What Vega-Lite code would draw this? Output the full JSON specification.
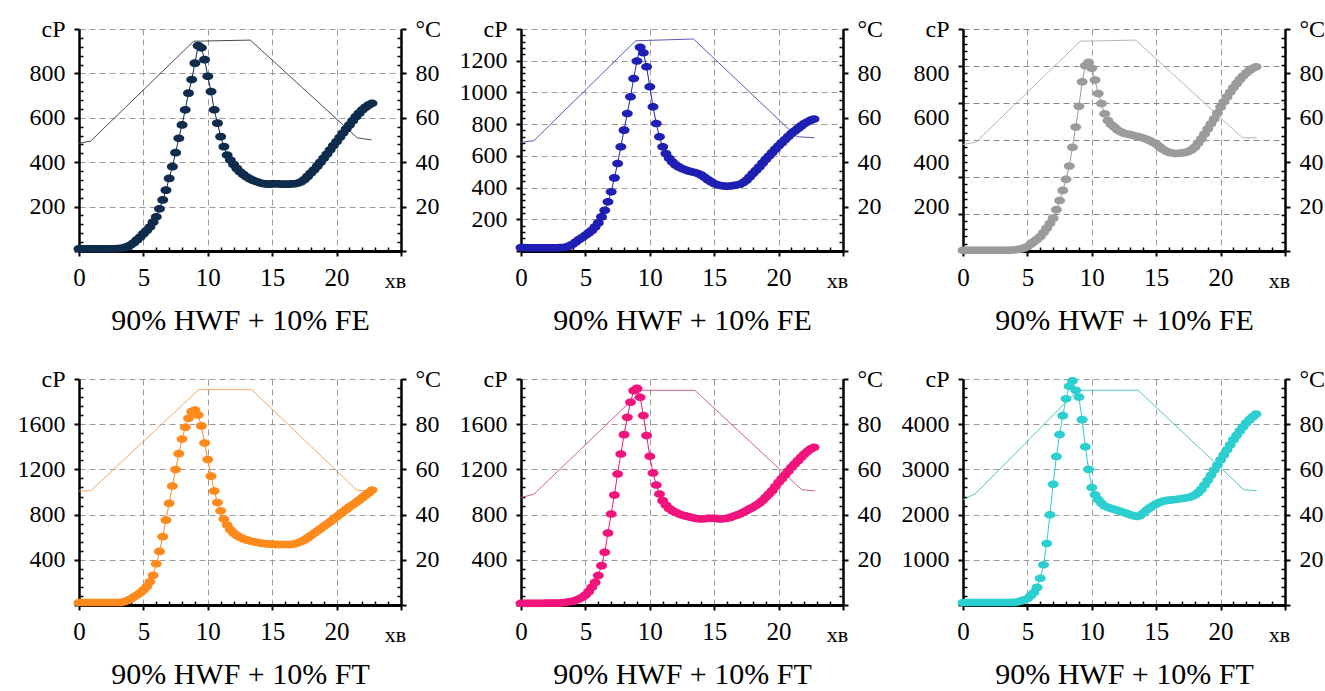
{
"$schema": "https://vega.github.io/schema/vega-lite/v6.json",
"padding": {"left": 17, "top": 17, "right": 0, "bottom": 0},
"background": "white",
"config": {
  "view": {"stroke": null},
  "font": "Liberation Serif",
  "style": {"guide-label": {"font": "Liberation Serif", "fill": "#000"}, "guide-title": {"font": "Liberation Serif", "fill": "#000"}},
  "axis": {"labelFont": "Liberation Serif", "titleFont": "Liberation Serif", "labelColor": "#000", "titleColor": "#000", "titleFontWeight": "normal", "domainColor": "#000", "tickColor": "#000", "gridColor": "#9a9a9a", "gridDash": [6, 4], "gridWidth": 1, "labelOverlap": false, "labelFlush": false, "labelBound": false}
},
"datasets": {
"temp": [
{"p":1,"t":0,"T":48.5},{"p":1,"t":0.9,"T":49.5},{"p":1,"t":8.9,"T":94.5},{"p":1,"t":13.3,"T":95},{"p":1,"t":21.6,"T":51},{"p":1,"t":22.7,"T":50},
{"p":2,"t":0,"T":49},{"p":2,"t":1,"T":49.7},{"p":2,"t":8.9,"T":94.7},{"p":2,"t":13.4,"T":95.5},{"p":2,"t":21.4,"T":51.5},{"p":2,"t":22.8,"T":51},
{"p":3,"t":0,"T":48},{"p":3,"t":1,"T":49},{"p":3,"t":9.1,"T":94.5},{"p":3,"t":13.4,"T":95},{"p":3,"t":21.7,"T":51},{"p":3,"t":22.8,"T":51},
{"p":4,"t":0,"T":50.5},{"p":4,"t":0.9,"T":50.5},{"p":4,"t":9.3,"T":95.3},{"p":4,"t":13.4,"T":95.3},{"p":4,"t":21.6,"T":50.7},{"p":4,"t":22.6,"T":50.5},
{"p":5,"t":0,"T":47.6},{"p":5,"t":1,"T":49},{"p":5,"t":9.4,"T":95},{"p":5,"t":13.5,"T":95},{"p":5,"t":21.8,"T":51},{"p":5,"t":22.8,"T":50.5},
{"p":6,"t":0,"T":46.5},{"p":6,"t":1,"T":49.4},{"p":6,"t":8.9,"T":95},{"p":6,"t":13.6,"T":95},{"p":6,"t":21.8,"T":51},{"p":6,"t":22.8,"T":50.6}
],
"visc": [
{"p":1,"t":0,"v":10},{"p":1,"t":0.25,"v":10},{"p":1,"t":0.5,"v":10},{"p":1,"t":0.75,"v":10},{"p":1,"t":1,"v":10},{"p":1,"t":1.25,"v":10},{"p":1,"t":1.5,"v":10},{"p":1,"t":1.75,"v":10},{"p":1,"t":2,"v":10},{"p":1,"t":2.25,"v":10},{"p":1,"t":2.5,"v":10},{"p":1,"t":2.75,"v":10},{"p":1,"t":3,"v":11},{"p":1,"t":3.25,"v":12},{"p":1,"t":3.5,"v":15},{"p":1,"t":3.75,"v":20},{"p":1,"t":4,"v":27},{"p":1,"t":4.25,"v":37},{"p":1,"t":4.5,"v":50},{"p":1,"t":4.75,"v":63},{"p":1,"t":5,"v":78},{"p":1,"t":5.25,"v":92},{"p":1,"t":5.5,"v":108},{"p":1,"t":5.75,"v":130},{"p":1,"t":6,"v":154},{"p":1,"t":6.25,"v":190},{"p":1,"t":6.5,"v":230},{"p":1,"t":6.75,"v":274},{"p":1,"t":7,"v":327},{"p":1,"t":7.25,"v":380},{"p":1,"t":7.5,"v":443},{"p":1,"t":7.75,"v":508},{"p":1,"t":8,"v":568},{"p":1,"t":8.25,"v":636},{"p":1,"t":8.5,"v":711},{"p":1,"t":8.75,"v":772},{"p":1,"t":9,"v":846},{"p":1,"t":9.25,"v":925},{"p":1,"t":9.5,"v":915},{"p":1,"t":9.75,"v":862},{"p":1,"t":10,"v":787},{"p":1,"t":10.25,"v":718},{"p":1,"t":10.5,"v":636},{"p":1,"t":10.75,"v":576},{"p":1,"t":11,"v":515},{"p":1,"t":11.25,"v":470},{"p":1,"t":11.5,"v":432},{"p":1,"t":11.75,"v":410},{"p":1,"t":12,"v":390},{"p":1,"t":12.25,"v":372},{"p":1,"t":12.5,"v":357},{"p":1,"t":12.75,"v":345},{"p":1,"t":13,"v":334},{"p":1,"t":13.25,"v":326},{"p":1,"t":13.5,"v":319},{"p":1,"t":13.75,"v":313},{"p":1,"t":14,"v":308},{"p":1,"t":14.25,"v":304},{"p":1,"t":14.5,"v":302},{"p":1,"t":14.75,"v":301},{"p":1,"t":15,"v":302},{"p":1,"t":15.25,"v":303},{"p":1,"t":15.5,"v":302},{"p":1,"t":15.75,"v":301},{"p":1,"t":16,"v":301},{"p":1,"t":16.25,"v":301},{"p":1,"t":16.5,"v":302},{"p":1,"t":16.75,"v":303},{"p":1,"t":17,"v":306},{"p":1,"t":17.25,"v":312},{"p":1,"t":17.5,"v":322},{"p":1,"t":17.75,"v":336},{"p":1,"t":18,"v":351},{"p":1,"t":18.25,"v":366},{"p":1,"t":18.5,"v":382},{"p":1,"t":18.75,"v":400},{"p":1,"t":19,"v":418},{"p":1,"t":19.25,"v":437},{"p":1,"t":19.5,"v":456},{"p":1,"t":19.75,"v":475},{"p":1,"t":20,"v":493},{"p":1,"t":20.25,"v":512},{"p":1,"t":20.5,"v":531},{"p":1,"t":20.75,"v":550},{"p":1,"t":21,"v":568},{"p":1,"t":21.25,"v":587},{"p":1,"t":21.5,"v":605},{"p":1,"t":21.75,"v":621},{"p":1,"t":22,"v":636},{"p":1,"t":22.25,"v":648},{"p":1,"t":22.5,"v":658},{"p":1,"t":22.75,"v":665},
{"p":2,"t":0,"v":22},{"p":2,"t":0.25,"v":22},{"p":2,"t":0.5,"v":20},{"p":2,"t":0.75,"v":20},{"p":2,"t":1,"v":20},{"p":2,"t":1.25,"v":20},{"p":2,"t":1.5,"v":20},{"p":2,"t":1.75,"v":20},{"p":2,"t":2,"v":20},{"p":2,"t":2.25,"v":20},{"p":2,"t":2.5,"v":20},{"p":2,"t":2.75,"v":20},{"p":2,"t":3,"v":21},{"p":2,"t":3.25,"v":22},{"p":2,"t":3.5,"v":24},{"p":2,"t":3.75,"v":32},{"p":2,"t":4,"v":42},{"p":2,"t":4.25,"v":56},{"p":2,"t":4.5,"v":72},{"p":2,"t":4.75,"v":85},{"p":2,"t":5,"v":99},{"p":2,"t":5.25,"v":114},{"p":2,"t":5.5,"v":130},{"p":2,"t":5.75,"v":152},{"p":2,"t":6,"v":177},{"p":2,"t":6.25,"v":215},{"p":2,"t":6.5,"v":257},{"p":2,"t":6.75,"v":310},{"p":2,"t":7,"v":373},{"p":2,"t":7.25,"v":461},{"p":2,"t":7.5,"v":552},{"p":2,"t":7.75,"v":657},{"p":2,"t":8,"v":762},{"p":2,"t":8.25,"v":867},{"p":2,"t":8.5,"v":973},{"p":2,"t":8.75,"v":1088},{"p":2,"t":9,"v":1198},{"p":2,"t":9.25,"v":1285},{"p":2,"t":9.5,"v":1250},{"p":2,"t":9.75,"v":1162},{"p":2,"t":10,"v":1036},{"p":2,"t":10.25,"v":909},{"p":2,"t":10.5,"v":804},{"p":2,"t":10.75,"v":720},{"p":2,"t":11,"v":657},{"p":2,"t":11.25,"v":615},{"p":2,"t":11.5,"v":585},{"p":2,"t":11.75,"v":562},{"p":2,"t":12,"v":543},{"p":2,"t":12.25,"v":530},{"p":2,"t":12.5,"v":520},{"p":2,"t":12.75,"v":512},{"p":2,"t":13,"v":505},{"p":2,"t":13.25,"v":500},{"p":2,"t":13.5,"v":495},{"p":2,"t":13.75,"v":488},{"p":2,"t":14,"v":478},{"p":2,"t":14.25,"v":465},{"p":2,"t":14.5,"v":450},{"p":2,"t":14.75,"v":437},{"p":2,"t":15,"v":425},{"p":2,"t":15.25,"v":418},{"p":2,"t":15.5,"v":413},{"p":2,"t":15.75,"v":410},{"p":2,"t":16,"v":408},{"p":2,"t":16.25,"v":410},{"p":2,"t":16.5,"v":413},{"p":2,"t":16.75,"v":416},{"p":2,"t":17,"v":421},{"p":2,"t":17.25,"v":432},{"p":2,"t":17.5,"v":446},{"p":2,"t":17.75,"v":466},{"p":2,"t":18,"v":488},{"p":2,"t":18.25,"v":509},{"p":2,"t":18.5,"v":530},{"p":2,"t":18.75,"v":554},{"p":2,"t":19,"v":577},{"p":2,"t":19.25,"v":599},{"p":2,"t":19.5,"v":621},{"p":2,"t":19.75,"v":642},{"p":2,"t":20,"v":663},{"p":2,"t":20.25,"v":683},{"p":2,"t":20.5,"v":703},{"p":2,"t":20.75,"v":722},{"p":2,"t":21,"v":741},{"p":2,"t":21.25,"v":757},{"p":2,"t":21.5,"v":773},{"p":2,"t":21.75,"v":789},{"p":2,"t":22,"v":804},{"p":2,"t":22.25,"v":815},{"p":2,"t":22.5,"v":825},{"p":2,"t":22.75,"v":832},
{"p":3,"t":0,"v":3},{"p":3,"t":0.25,"v":3},{"p":3,"t":0.5,"v":3},{"p":3,"t":0.75,"v":3},{"p":3,"t":1,"v":3},{"p":3,"t":1.25,"v":3},{"p":3,"t":1.5,"v":3},{"p":3,"t":1.75,"v":3},{"p":3,"t":2,"v":3},{"p":3,"t":2.25,"v":3},{"p":3,"t":2.5,"v":3},{"p":3,"t":2.75,"v":3},{"p":3,"t":3,"v":3},{"p":3,"t":3.25,"v":3},{"p":3,"t":3.5,"v":3},{"p":3,"t":3.75,"v":4},{"p":3,"t":4,"v":5},{"p":3,"t":4.25,"v":7},{"p":3,"t":4.5,"v":9},{"p":3,"t":4.75,"v":14},{"p":3,"t":5,"v":20},{"p":3,"t":5.25,"v":30},{"p":3,"t":5.5,"v":42},{"p":3,"t":5.75,"v":53},{"p":3,"t":6,"v":65},{"p":3,"t":6.25,"v":83},{"p":3,"t":6.5,"v":103},{"p":3,"t":6.75,"v":125},{"p":3,"t":7,"v":148},{"p":3,"t":7.25,"v":186},{"p":3,"t":7.5,"v":227},{"p":3,"t":7.75,"v":273},{"p":3,"t":8,"v":323},{"p":3,"t":8.25,"v":383},{"p":3,"t":8.5,"v":467},{"p":3,"t":8.75,"v":558},{"p":3,"t":9,"v":652},{"p":3,"t":9.25,"v":762},{"p":3,"t":9.5,"v":835},{"p":3,"t":9.75,"v":850},{"p":3,"t":10,"v":823},{"p":3,"t":10.25,"v":770},{"p":3,"t":10.5,"v":709},{"p":3,"t":10.75,"v":664},{"p":3,"t":11,"v":618},{"p":3,"t":11.25,"v":588},{"p":3,"t":11.5,"v":570},{"p":3,"t":11.75,"v":558},{"p":3,"t":12,"v":545},{"p":3,"t":12.25,"v":537},{"p":3,"t":12.5,"v":530},{"p":3,"t":12.75,"v":527},{"p":3,"t":13,"v":524},{"p":3,"t":13.25,"v":520},{"p":3,"t":13.5,"v":517},{"p":3,"t":13.75,"v":513},{"p":3,"t":14,"v":509},{"p":3,"t":14.25,"v":503},{"p":3,"t":14.5,"v":497},{"p":3,"t":14.75,"v":490},{"p":3,"t":15,"v":482},{"p":3,"t":15.25,"v":470},{"p":3,"t":15.5,"v":459},{"p":3,"t":15.75,"v":450},{"p":3,"t":16,"v":444},{"p":3,"t":16.25,"v":441},{"p":3,"t":16.5,"v":439},{"p":3,"t":16.75,"v":440},{"p":3,"t":17,"v":441},{"p":3,"t":17.25,"v":444},{"p":3,"t":17.5,"v":448},{"p":3,"t":17.75,"v":456},{"p":3,"t":18,"v":467},{"p":3,"t":18.25,"v":485},{"p":3,"t":18.5,"v":505},{"p":3,"t":18.75,"v":527},{"p":3,"t":19,"v":550},{"p":3,"t":19.25,"v":573},{"p":3,"t":19.5,"v":595},{"p":3,"t":19.75,"v":621},{"p":3,"t":20,"v":648},{"p":3,"t":20.25,"v":672},{"p":3,"t":20.5,"v":694},{"p":3,"t":20.75,"v":716},{"p":3,"t":21,"v":736},{"p":3,"t":21.25,"v":755},{"p":3,"t":21.5,"v":773},{"p":3,"t":21.75,"v":788},{"p":3,"t":22,"v":803},{"p":3,"t":22.25,"v":814},{"p":3,"t":22.5,"v":823},{"p":3,"t":22.75,"v":830},
{"p":4,"t":0,"v":22},{"p":4,"t":0.25,"v":22},{"p":4,"t":0.5,"v":22},{"p":4,"t":0.75,"v":22},{"p":4,"t":1,"v":22},{"p":4,"t":1.25,"v":22},{"p":4,"t":1.5,"v":22},{"p":4,"t":1.75,"v":22},{"p":4,"t":2,"v":22},{"p":4,"t":2.25,"v":22},{"p":4,"t":2.5,"v":22},{"p":4,"t":2.75,"v":22},{"p":4,"t":3,"v":22},{"p":4,"t":3.25,"v":23},{"p":4,"t":3.5,"v":29},{"p":4,"t":3.75,"v":40},{"p":4,"t":4,"v":53},{"p":4,"t":4.25,"v":70},{"p":4,"t":4.5,"v":88},{"p":4,"t":4.75,"v":108},{"p":4,"t":5,"v":132},{"p":4,"t":5.25,"v":161},{"p":4,"t":5.5,"v":205},{"p":4,"t":5.75,"v":263},{"p":4,"t":6,"v":365},{"p":4,"t":6.25,"v":474},{"p":4,"t":6.5,"v":605},{"p":4,"t":6.75,"v":751},{"p":4,"t":7,"v":900},{"p":4,"t":7.25,"v":1053},{"p":4,"t":7.5,"v":1199},{"p":4,"t":7.75,"v":1339},{"p":4,"t":8,"v":1468},{"p":4,"t":8.25,"v":1573},{"p":4,"t":8.5,"v":1652},{"p":4,"t":8.75,"v":1711},{"p":4,"t":9,"v":1725},{"p":4,"t":9.25,"v":1681},{"p":4,"t":9.5,"v":1585},{"p":4,"t":9.75,"v":1433},{"p":4,"t":10,"v":1287},{"p":4,"t":10.25,"v":1140},{"p":4,"t":10.5,"v":1009},{"p":4,"t":10.75,"v":906},{"p":4,"t":11,"v":833},{"p":4,"t":11.25,"v":760},{"p":4,"t":11.5,"v":708},{"p":4,"t":11.75,"v":667},{"p":4,"t":12,"v":637},{"p":4,"t":12.25,"v":616},{"p":4,"t":12.5,"v":599},{"p":4,"t":12.75,"v":587},{"p":4,"t":13,"v":576},{"p":4,"t":13.25,"v":568},{"p":4,"t":13.5,"v":561},{"p":4,"t":13.75,"v":555},{"p":4,"t":14,"v":550},{"p":4,"t":14.25,"v":545},{"p":4,"t":14.5,"v":541},{"p":4,"t":14.75,"v":539},{"p":4,"t":15,"v":538},{"p":4,"t":15.25,"v":536},{"p":4,"t":15.5,"v":535},{"p":4,"t":15.75,"v":535},{"p":4,"t":16,"v":535},{"p":4,"t":16.25,"v":535},{"p":4,"t":16.5,"v":536},{"p":4,"t":16.75,"v":541},{"p":4,"t":17,"v":550},{"p":4,"t":17.25,"v":562},{"p":4,"t":17.5,"v":576},{"p":4,"t":17.75,"v":594},{"p":4,"t":18,"v":614},{"p":4,"t":18.25,"v":634},{"p":4,"t":18.5,"v":655},{"p":4,"t":18.75,"v":675},{"p":4,"t":19,"v":696},{"p":4,"t":19.25,"v":716},{"p":4,"t":19.5,"v":737},{"p":4,"t":19.75,"v":759},{"p":4,"t":20,"v":781},{"p":4,"t":20.25,"v":803},{"p":4,"t":20.5,"v":825},{"p":4,"t":20.75,"v":846},{"p":4,"t":21,"v":868},{"p":4,"t":21.25,"v":887},{"p":4,"t":21.5,"v":906},{"p":4,"t":21.75,"v":928},{"p":4,"t":22,"v":950},{"p":4,"t":22.25,"v":972},{"p":4,"t":22.5,"v":994},{"p":4,"t":22.75,"v":1018},
{"p":5,"t":0,"v":15},{"p":5,"t":0.25,"v":15},{"p":5,"t":0.5,"v":15},{"p":5,"t":0.75,"v":15},{"p":5,"t":1,"v":15},{"p":5,"t":1.25,"v":15},{"p":5,"t":1.5,"v":15},{"p":5,"t":1.75,"v":15},{"p":5,"t":2,"v":16},{"p":5,"t":2.25,"v":16},{"p":5,"t":2.5,"v":16},{"p":5,"t":2.75,"v":16},{"p":5,"t":3,"v":16},{"p":5,"t":3.25,"v":20},{"p":5,"t":3.5,"v":24},{"p":5,"t":3.75,"v":28},{"p":5,"t":4,"v":32},{"p":5,"t":4.25,"v":42},{"p":5,"t":4.5,"v":53},{"p":5,"t":4.75,"v":68},{"p":5,"t":5,"v":88},{"p":5,"t":5.25,"v":118},{"p":5,"t":5.5,"v":156},{"p":5,"t":5.75,"v":200},{"p":5,"t":6,"v":260},{"p":5,"t":6.25,"v":348},{"p":5,"t":6.5,"v":466},{"p":5,"t":6.75,"v":637},{"p":5,"t":7,"v":805},{"p":5,"t":7.25,"v":973},{"p":5,"t":7.5,"v":1159},{"p":5,"t":7.75,"v":1336},{"p":5,"t":8,"v":1507},{"p":5,"t":8.25,"v":1661},{"p":5,"t":8.5,"v":1794},{"p":5,"t":8.75,"v":1897},{"p":5,"t":9,"v":1917},{"p":5,"t":9.25,"v":1838},{"p":5,"t":9.5,"v":1676},{"p":5,"t":9.75,"v":1499},{"p":5,"t":10,"v":1316},{"p":5,"t":10.25,"v":1168},{"p":5,"t":10.5,"v":1062},{"p":5,"t":10.75,"v":982},{"p":5,"t":11,"v":923},{"p":5,"t":11.25,"v":885},{"p":5,"t":11.5,"v":855},{"p":5,"t":11.75,"v":835},{"p":5,"t":12,"v":820},{"p":5,"t":12.25,"v":807},{"p":5,"t":12.5,"v":796},{"p":5,"t":12.75,"v":788},{"p":5,"t":13,"v":782},{"p":5,"t":13.25,"v":774},{"p":5,"t":13.5,"v":767},{"p":5,"t":13.75,"v":763},{"p":5,"t":14,"v":761},{"p":5,"t":14.25,"v":763},{"p":5,"t":14.5,"v":767},{"p":5,"t":14.75,"v":767},{"p":5,"t":15,"v":767},{"p":5,"t":15.25,"v":764},{"p":5,"t":15.5,"v":761},{"p":5,"t":15.75,"v":763},{"p":5,"t":16,"v":767},{"p":5,"t":16.25,"v":775},{"p":5,"t":16.5,"v":785},{"p":5,"t":16.75,"v":795},{"p":5,"t":17,"v":805},{"p":5,"t":17.25,"v":820},{"p":5,"t":17.5,"v":835},{"p":5,"t":17.75,"v":850},{"p":5,"t":18,"v":864},{"p":5,"t":18.25,"v":882},{"p":5,"t":18.5,"v":900},{"p":5,"t":18.75,"v":925},{"p":5,"t":19,"v":953},{"p":5,"t":19.25,"v":982},{"p":5,"t":19.5,"v":1012},{"p":5,"t":19.75,"v":1048},{"p":5,"t":20,"v":1086},{"p":5,"t":20.25,"v":1118},{"p":5,"t":20.5,"v":1150},{"p":5,"t":20.75,"v":1184},{"p":5,"t":21,"v":1218},{"p":5,"t":21.25,"v":1248},{"p":5,"t":21.5,"v":1277},{"p":5,"t":21.75,"v":1307},{"p":5,"t":22,"v":1336},{"p":5,"t":22.25,"v":1360},{"p":5,"t":22.5,"v":1381},{"p":5,"t":22.75,"v":1395},
{"p":6,"t":0,"v":55},{"p":6,"t":0.25,"v":55},{"p":6,"t":0.5,"v":55},{"p":6,"t":0.75,"v":55},{"p":6,"t":1,"v":55},{"p":6,"t":1.25,"v":55},{"p":6,"t":1.5,"v":55},{"p":6,"t":1.75,"v":55},{"p":6,"t":2,"v":55},{"p":6,"t":2.25,"v":55},{"p":6,"t":2.5,"v":55},{"p":6,"t":2.75,"v":55},{"p":6,"t":3,"v":55},{"p":6,"t":3.25,"v":55},{"p":6,"t":3.5,"v":56},{"p":6,"t":3.75,"v":57},{"p":6,"t":4,"v":58},{"p":6,"t":4.25,"v":70},{"p":6,"t":4.5,"v":90},{"p":6,"t":4.75,"v":112},{"p":6,"t":5,"v":142},{"p":6,"t":5.25,"v":202},{"p":6,"t":5.5,"v":277},{"p":6,"t":5.75,"v":389},{"p":6,"t":6,"v":591},{"p":6,"t":6.25,"v":890},{"p":6,"t":6.5,"v":1361},{"p":6,"t":6.75,"v":1997},{"p":6,"t":7,"v":2670},{"p":6,"t":7.25,"v":3283},{"p":6,"t":7.5,"v":3770},{"p":6,"t":7.75,"v":4188},{"p":6,"t":8,"v":4562},{"p":6,"t":8.25,"v":4839},{"p":6,"t":8.5,"v":4960},{"p":6,"t":8.75,"v":4750},{"p":6,"t":9,"v":4600},{"p":6,"t":9.25,"v":4100},{"p":6,"t":9.5,"v":3500},{"p":6,"t":9.75,"v":3000},{"p":6,"t":10,"v":2600},{"p":6,"t":10.25,"v":2440},{"p":6,"t":10.5,"v":2330},{"p":6,"t":10.75,"v":2250},{"p":6,"t":11,"v":2190},{"p":6,"t":11.25,"v":2160},{"p":6,"t":11.5,"v":2135},{"p":6,"t":11.75,"v":2115},{"p":6,"t":12,"v":2095},{"p":6,"t":12.25,"v":2070},{"p":6,"t":12.5,"v":2045},{"p":6,"t":12.75,"v":2020},{"p":6,"t":13,"v":1997},{"p":6,"t":13.25,"v":1975},{"p":6,"t":13.5,"v":1960},{"p":6,"t":13.75,"v":1980},{"p":6,"t":14,"v":2034},{"p":6,"t":14.25,"v":2095},{"p":6,"t":14.5,"v":2147},{"p":6,"t":14.75,"v":2195},{"p":6,"t":15,"v":2236},{"p":6,"t":15.25,"v":2270},{"p":6,"t":15.5,"v":2296},{"p":6,"t":15.75,"v":2308},{"p":6,"t":16,"v":2319},{"p":6,"t":16.25,"v":2326},{"p":6,"t":16.5,"v":2334},{"p":6,"t":16.75,"v":2345},{"p":6,"t":17,"v":2356},{"p":6,"t":17.25,"v":2367},{"p":6,"t":17.5,"v":2378},{"p":6,"t":17.75,"v":2400},{"p":6,"t":18,"v":2431},{"p":6,"t":18.25,"v":2485},{"p":6,"t":18.5,"v":2558},{"p":6,"t":18.75,"v":2655},{"p":6,"t":19,"v":2760},{"p":6,"t":19.25,"v":2870},{"p":6,"t":19.5,"v":2984},{"p":6,"t":19.75,"v":3097},{"p":6,"t":20,"v":3209},{"p":6,"t":20.25,"v":3321},{"p":6,"t":20.5,"v":3433},{"p":6,"t":20.75,"v":3545},{"p":6,"t":21,"v":3657},{"p":6,"t":21.25,"v":3755},{"p":6,"t":21.5,"v":3852},{"p":6,"t":21.75,"v":3942},{"p":6,"t":22,"v":4031},{"p":6,"t":22.25,"v":4100},{"p":6,"t":22.5,"v":4166},{"p":6,"t":22.75,"v":4226}
]
},
"columns": 3,
"bounds": "flush",
"align": "each",
"spacing": {"row": 128, "column": 120},
"concat": [
{
 "width": 322, "height": 222,
 "encoding": {"x": {"field": "t", "type": "quantitative", "scale": {"domain": [0, 25], "nice": false, "zero": false},
   "axis": {"title": "90% HWF + 10% FE", "titleFont": "Liberation Serif", "titleFontSize": 30, "titlePadding": 14, "values": [0,1,2,3,4,5,6,7,8,9,10,11,12,13,14,15,16,17,18,19,20,21,22,23,24,25], "format": "d",
     "labelExpr": "datum.value == 25 ? 'хв' : (datum.value % 5 == 0 ? datum.label : '')", "labelFont": "Liberation Serif",
     "labelFontSize": {"condition": {"test": "datum.value == 25", "value": 22}, "value": 25},
     "labelPadding": {"condition": {"test": "datum.value == 25", "value": 14}, "value": 9},
     "labelOffset": {"condition": {"test": "datum.value == 25", "value": -6}, "value": 0},
     "tickSize": {"condition": {"test": "datum.value % 5 == 0", "value": 5}, "value": -4},
     "tickWidth": {"condition": {"test": "datum.value % 5 == 0", "value": 2}, "value": 1.5},
     "domainWidth": 3, "grid": true,
     "gridOpacity": {"condition": {"test": "datum.value % 5 == 0 && datum.value > 0 && datum.value < 25", "value": 1}, "value": 0}}}},
 "layer": [
  {"data": {"name": "temp"}, "transform": [{"filter": "datum.p == 1"}], "mark": {"type": "line", "color": "#4a4a4a", "strokeWidth": 1},
   "encoding": {"y": {"field": "T", "type": "quantitative", "scale": {"domain": [0, 100], "nice": false},
     "axis": {"orient": "right", "title": null, "values": [0,4,8,12,16,20,24,28,32,36,40,44,48,52,56,60,64,68,72,76,80,84,88,92,96,100], "format": "d", "labelFont": "Liberation Serif",
       "labelExpr": "datum.value == 100 ? '°C' : (datum.value % 20 == 0 && datum.value > 0 ? datum.label : '')", "labelFontSize": 24, "labelPadding": 9,
       "tickSize": {"condition": {"test": "datum.value % 20 == 0", "value": 5}, "value": -4},
       "tickWidth": {"condition": {"test": "datum.value % 20 == 0", "value": 2}, "value": 1.5},
       "domainWidth": 2.5, "grid": false}}}},
  {"data": {"name": "visc"}, "transform": [{"filter": "datum.p == 1"}],
   "encoding": {"y": {"field": "v", "type": "quantitative", "scale": {"domain": [0, 1000], "nice": false},
     "axis": {"orient": "left", "title": null, "values": [0,40,80,120,160,200,240,280,320,360,400,440,480,520,560,600,640,680,720,760,800,840,880,920,960,1000], "format": "d", "labelFont": "Liberation Serif",
       "labelExpr": "datum.value == 1000 ? 'cP' : (datum.value % 200 == 0 && datum.value > 0 ? datum.label : '')", "labelFontSize": 24, "labelPadding": 9,
       "tickSize": {"condition": {"test": "datum.value % 200 == 0", "value": 5}, "value": -4},
       "tickWidth": {"condition": {"test": "datum.value % 200 == 0", "value": 2}, "value": 1.5},
       "domainWidth": 2.5, "grid": true,
       "gridOpacity": {"condition": {"test": "datum.value % 200 == 0 && datum.value > 0", "value": 1}, "value": 0}}}},
   "layer": [
    {"mark": {"type": "line", "color": "#0f2c4c", "strokeWidth": 1}},
    {"mark": {"type": "point", "filled": true, "opacity": 1, "color": "#0f2c4c", "size": 120, "shape": "M-1,0A1,0.7,0,1,0,1,0A1,0.7,0,1,0,-1,0Z"}}
   ]}
 ],
 "resolve": {"scale": {"y": "independent"}}
},
{
 "width": 322, "height": 222,
 "encoding": {"x": {"field": "t", "type": "quantitative", "scale": {"domain": [0, 25], "nice": false, "zero": false},
   "axis": {"title": "90% HWF + 10% FE", "titleFont": "Liberation Serif", "titleFontSize": 30, "titlePadding": 14, "values": [0,1,2,3,4,5,6,7,8,9,10,11,12,13,14,15,16,17,18,19,20,21,22,23,24,25], "format": "d",
     "labelExpr": "datum.value == 25 ? 'хв' : (datum.value % 5 == 0 ? datum.label : '')", "labelFont": "Liberation Serif",
     "labelFontSize": {"condition": {"test": "datum.value == 25", "value": 22}, "value": 25},
     "labelPadding": {"condition": {"test": "datum.value == 25", "value": 14}, "value": 9},
     "labelOffset": {"condition": {"test": "datum.value == 25", "value": -6}, "value": 0},
     "tickSize": {"condition": {"test": "datum.value % 5 == 0", "value": 5}, "value": -4},
     "tickWidth": {"condition": {"test": "datum.value % 5 == 0", "value": 2}, "value": 1.5},
     "domainWidth": 3, "grid": true,
     "gridOpacity": {"condition": {"test": "datum.value % 5 == 0 && datum.value > 0 && datum.value < 25", "value": 1}, "value": 0}}}},
 "layer": [
  {"data": {"name": "temp"}, "transform": [{"filter": "datum.p == 2"}], "mark": {"type": "line", "color": "#5c5cb0", "strokeWidth": 1},
   "encoding": {"y": {"field": "T", "type": "quantitative", "scale": {"domain": [0, 100], "nice": false},
     "axis": {"orient": "right", "title": null, "values": [0,4,8,12,16,20,24,28,32,36,40,44,48,52,56,60,64,68,72,76,80,84,88,92,96,100], "format": "d", "labelFont": "Liberation Serif",
       "labelExpr": "datum.value == 100 ? '°C' : (datum.value % 20 == 0 && datum.value > 0 ? datum.label : '')", "labelFontSize": 24, "labelPadding": 9,
       "tickSize": {"condition": {"test": "datum.value % 20 == 0", "value": 5}, "value": -4},
       "tickWidth": {"condition": {"test": "datum.value % 20 == 0", "value": 2}, "value": 1.5},
       "domainWidth": 2.5, "grid": false}}}},
  {"data": {"name": "visc"}, "transform": [{"filter": "datum.p == 2"}],
   "encoding": {"y": {"field": "v", "type": "quantitative", "scale": {"domain": [0, 1400], "nice": false},
     "axis": {"orient": "left", "title": null, "values": [0,40,80,120,160,200,240,280,320,360,400,440,480,520,560,600,640,680,720,760,800,840,880,920,960,1000,1040,1080,1120,1160,1200,1240,1280,1320,1360,1400], "format": "d", "labelFont": "Liberation Serif",
       "labelExpr": "datum.value == 1400 ? 'cP' : (datum.value % 200 == 0 && datum.value > 0 ? datum.label : '')", "labelFontSize": 24, "labelPadding": 9,
       "tickSize": {"condition": {"test": "datum.value % 200 == 0", "value": 5}, "value": -4},
       "tickWidth": {"condition": {"test": "datum.value % 200 == 0", "value": 2}, "value": 1.5},
       "domainWidth": 2.5, "grid": true,
       "gridOpacity": {"condition": {"test": "datum.value % 200 == 0 && datum.value > 0", "value": 1}, "value": 0}}}},
   "layer": [
    {"mark": {"type": "line", "color": "#1f1fb4", "strokeWidth": 1}},
    {"mark": {"type": "point", "filled": true, "opacity": 1, "color": "#1f1fb4", "size": 120, "shape": "M-1,0A1,0.7,0,1,0,1,0A1,0.7,0,1,0,-1,0Z"}}
   ]}
 ],
 "resolve": {"scale": {"y": "independent"}}
},
{
 "width": 322, "height": 222,
 "encoding": {"x": {"field": "t", "type": "quantitative", "scale": {"domain": [0, 25], "nice": false, "zero": false},
   "axis": {"title": "90% HWF + 10% FE", "titleFont": "Liberation Serif", "titleFontSize": 30, "titlePadding": 14, "values": [0,1,2,3,4,5,6,7,8,9,10,11,12,13,14,15,16,17,18,19,20,21,22,23,24,25], "format": "d",
     "labelExpr": "datum.value == 25 ? 'хв' : (datum.value % 5 == 0 ? datum.label : '')", "labelFont": "Liberation Serif",
     "labelFontSize": {"condition": {"test": "datum.value == 25", "value": 22}, "value": 25},
     "labelPadding": {"condition": {"test": "datum.value == 25", "value": 14}, "value": 9},
     "labelOffset": {"condition": {"test": "datum.value == 25", "value": -6}, "value": 0},
     "tickSize": {"condition": {"test": "datum.value % 5 == 0", "value": 5}, "value": -4},
     "tickWidth": {"condition": {"test": "datum.value % 5 == 0", "value": 2}, "value": 1.5},
     "domainWidth": 3, "grid": true,
     "gridOpacity": {"condition": {"test": "datum.value % 5 == 0 && datum.value > 0 && datum.value < 25", "value": 1}, "value": 0}}}},
 "layer": [
  {"data": {"name": "temp"}, "transform": [{"filter": "datum.p == 3"}], "mark": {"type": "line", "color": "#b5b5b5", "strokeWidth": 1},
   "encoding": {"y": {"field": "T", "type": "quantitative", "scale": {"domain": [0, 100], "nice": false},
     "axis": {"orient": "right", "title": null, "values": [0,4,8,12,16,20,24,28,32,36,40,44,48,52,56,60,64,68,72,76,80,84,88,92,96,100], "format": "d", "labelFont": "Liberation Serif",
       "labelExpr": "datum.value == 100 ? '°C' : (datum.value % 20 == 0 && datum.value > 0 ? datum.label : '')", "labelFontSize": 24, "labelPadding": 9,
       "tickSize": {"condition": {"test": "datum.value % 20 == 0", "value": 5}, "value": -4},
       "tickWidth": {"condition": {"test": "datum.value % 20 == 0", "value": 2}, "value": 1.5},
       "domainWidth": 2.5, "grid": false}}}},
  {"data": {"name": "visc"}, "transform": [{"filter": "datum.p == 3"}], "mark": {"type": "line", "color": "#9b9b9b", "strokeWidth": 1},
   "encoding": {"y": {"field": "v", "type": "quantitative", "scale": {"domain": [0, 1000], "nice": false},
     "axis": {"orient": "left", "title": null, "values": [0,33.333,66.667,100,133.333,166.667,200,233.333,266.667,300,333.333,366.667,400,433.333,466.667,500,533.333,566.667,600,633.333,666.667,700,733.333,766.667,800,833.333,866.667,900,933.333,966.667,1000],
       "labels": false,
       "tickSize": {"condition": {"test": "abs(datum.value/166.6667 - round(datum.value/166.6667)) < 0.01", "value": 5}, "value": -4},
       "tickWidth": {"condition": {"test": "abs(datum.value/166.6667 - round(datum.value/166.6667)) < 0.01", "value": 2}, "value": 1.5},
       "domainWidth": 2.5, "grid": true, "gridColor": "#888888",
       "gridOpacity": {"condition": {"test": "abs(datum.value/166.6667 - round(datum.value/166.6667)) < 0.01 && datum.value > 1", "value": 1}, "value": 0}}}}},
  {"data": {"name": "visc"}, "transform": [{"filter": "datum.p == 3"}], "mark": {"type": "point", "filled": true, "opacity": 1, "color": "#9b9b9b", "size": 120, "shape": "M-1,0A1,0.7,0,1,0,1,0A1,0.7,0,1,0,-1,0Z"},
   "encoding": {"y": {"field": "v", "type": "quantitative", "scale": {"domain": [0, 1000], "nice": false},
     "axis": {"orient": "left", "title": null, "values": [200,400,600,800,1000], "format": "d", "labelFont": "Liberation Serif",
       "labelExpr": "datum.value == 1000 ? 'cP' : datum.label", "labelFontSize": 24, "labelPadding": 9,
       "tickSize": 5, "tickOpacity": 0, "domain": false, "grid": false}}}}
 ],
 "resolve": {"scale": {"y": "independent"}}
},
{
 "width": 322, "height": 226,
 "encoding": {"x": {"field": "t", "type": "quantitative", "scale": {"domain": [0, 25], "nice": false, "zero": false},
   "axis": {"title": "90% HWF + 10% FT", "titleFont": "Liberation Serif", "titleFontSize": 30, "titlePadding": 14, "values": [0,1,2,3,4,5,6,7,8,9,10,11,12,13,14,15,16,17,18,19,20,21,22,23,24,25], "format": "d",
     "labelExpr": "datum.value == 25 ? 'хв' : (datum.value % 5 == 0 ? datum.label : '')", "labelFont": "Liberation Serif",
     "labelFontSize": {"condition": {"test": "datum.value == 25", "value": 22}, "value": 25},
     "labelPadding": {"condition": {"test": "datum.value == 25", "value": 14}, "value": 9},
     "labelOffset": {"condition": {"test": "datum.value == 25", "value": -6}, "value": 0},
     "tickSize": {"condition": {"test": "datum.value % 5 == 0", "value": 5}, "value": -4},
     "tickWidth": {"condition": {"test": "datum.value % 5 == 0", "value": 2}, "value": 1.5},
     "domainWidth": 3, "grid": true,
     "gridOpacity": {"condition": {"test": "datum.value % 5 == 0 && datum.value > 0 && datum.value < 25", "value": 1}, "value": 0}}}},
 "layer": [
  {"data": {"name": "temp"}, "transform": [{"filter": "datum.p == 4"}], "mark": {"type": "line", "color": "#f0a868", "strokeWidth": 1},
   "encoding": {"y": {"field": "T", "type": "quantitative", "scale": {"domain": [0, 100], "nice": false},
     "axis": {"orient": "right", "title": null, "values": [0,4,8,12,16,20,24,28,32,36,40,44,48,52,56,60,64,68,72,76,80,84,88,92,96,100], "format": "d", "labelFont": "Liberation Serif",
       "labelExpr": "datum.value == 100 ? '°C' : (datum.value % 20 == 0 && datum.value > 0 ? datum.label : '')", "labelFontSize": 24, "labelPadding": 9,
       "tickSize": {"condition": {"test": "datum.value % 20 == 0", "value": 5}, "value": -4},
       "tickWidth": {"condition": {"test": "datum.value % 20 == 0", "value": 2}, "value": 1.5},
       "domainWidth": 2.5, "grid": false}}}},
  {"data": {"name": "visc"}, "transform": [{"filter": "datum.p == 4"}],
   "encoding": {"y": {"field": "v", "type": "quantitative", "scale": {"domain": [0, 2000], "nice": false},
     "axis": {"orient": "left", "title": null, "values": [0,80,160,240,320,400,480,560,640,720,800,880,960,1040,1120,1200,1280,1360,1440,1520,1600,1680,1760,1840,1920,2000], "format": "d", "labelFont": "Liberation Serif",
       "labelExpr": "datum.value == 2000 ? 'cP' : (datum.value % 400 == 0 && datum.value > 0 ? datum.label : '')", "labelFontSize": 24, "labelPadding": 9,
       "tickSize": {"condition": {"test": "datum.value % 400 == 0", "value": 5}, "value": -4},
       "tickWidth": {"condition": {"test": "datum.value % 400 == 0", "value": 2}, "value": 1.5},
       "domainWidth": 2.5, "grid": true,
       "gridOpacity": {"condition": {"test": "datum.value % 400 == 0 && datum.value > 0", "value": 1}, "value": 0}}}},
   "layer": [
    {"mark": {"type": "line", "color": "#ff8a1c", "strokeWidth": 1}},
    {"mark": {"type": "point", "filled": true, "opacity": 1, "color": "#ff8a1c", "size": 120, "shape": "M-1,0A1,0.7,0,1,0,1,0A1,0.7,0,1,0,-1,0Z"}}
   ]}
 ],
 "resolve": {"scale": {"y": "independent"}}
},
{
 "width": 322, "height": 226,
 "encoding": {"x": {"field": "t", "type": "quantitative", "scale": {"domain": [0, 25], "nice": false, "zero": false},
   "axis": {"title": "90% HWF + 10% FT", "titleFont": "Liberation Serif", "titleFontSize": 30, "titlePadding": 14, "values": [0,1,2,3,4,5,6,7,8,9,10,11,12,13,14,15,16,17,18,19,20,21,22,23,24,25], "format": "d",
     "labelExpr": "datum.value == 25 ? 'хв' : (datum.value % 5 == 0 ? datum.label : '')", "labelFont": "Liberation Serif",
     "labelFontSize": {"condition": {"test": "datum.value == 25", "value": 22}, "value": 25},
     "labelPadding": {"condition": {"test": "datum.value == 25", "value": 14}, "value": 9},
     "labelOffset": {"condition": {"test": "datum.value == 25", "value": -6}, "value": 0},
     "tickSize": {"condition": {"test": "datum.value % 5 == 0", "value": 5}, "value": -4},
     "tickWidth": {"condition": {"test": "datum.value % 5 == 0", "value": 2}, "value": 1.5},
     "domainWidth": 3, "grid": true,
     "gridOpacity": {"condition": {"test": "datum.value % 5 == 0 && datum.value > 0 && datum.value < 25", "value": 1}, "value": 0}}}},
 "layer": [
  {"data": {"name": "temp"}, "transform": [{"filter": "datum.p == 5"}], "mark": {"type": "line", "color": "#c8608c", "strokeWidth": 1},
   "encoding": {"y": {"field": "T", "type": "quantitative", "scale": {"domain": [0, 100], "nice": false},
     "axis": {"orient": "right", "title": null, "values": [0,4,8,12,16,20,24,28,32,36,40,44,48,52,56,60,64,68,72,76,80,84,88,92,96,100], "format": "d", "labelFont": "Liberation Serif",
       "labelExpr": "datum.value == 100 ? '°C' : (datum.value % 20 == 0 && datum.value > 0 ? datum.label : '')", "labelFontSize": 24, "labelPadding": 9,
       "tickSize": {"condition": {"test": "datum.value % 20 == 0", "value": 5}, "value": -4},
       "tickWidth": {"condition": {"test": "datum.value % 20 == 0", "value": 2}, "value": 1.5},
       "domainWidth": 2.5, "grid": false}}}},
  {"data": {"name": "visc"}, "transform": [{"filter": "datum.p == 5"}],
   "encoding": {"y": {"field": "v", "type": "quantitative", "scale": {"domain": [0, 2000], "nice": false},
     "axis": {"orient": "left", "title": null, "values": [0,80,160,240,320,400,480,560,640,720,800,880,960,1040,1120,1200,1280,1360,1440,1520,1600,1680,1760,1840,1920,2000], "format": "d", "labelFont": "Liberation Serif",
       "labelExpr": "datum.value == 2000 ? 'cP' : (datum.value % 400 == 0 && datum.value > 0 ? datum.label : '')", "labelFontSize": 24, "labelPadding": 9,
       "tickSize": {"condition": {"test": "datum.value % 400 == 0", "value": 5}, "value": -4},
       "tickWidth": {"condition": {"test": "datum.value % 400 == 0", "value": 2}, "value": 1.5},
       "domainWidth": 2.5, "grid": true,
       "gridOpacity": {"condition": {"test": "datum.value % 400 == 0 && datum.value > 0", "value": 1}, "value": 0}}}},
   "layer": [
    {"mark": {"type": "line", "color": "#f0147c", "strokeWidth": 1}},
    {"mark": {"type": "point", "filled": true, "opacity": 1, "color": "#f0147c", "size": 120, "shape": "M-1,0A1,0.7,0,1,0,1,0A1,0.7,0,1,0,-1,0Z"}}
   ]}
 ],
 "resolve": {"scale": {"y": "independent"}}
},
{
 "width": 322, "height": 226,
 "encoding": {"x": {"field": "t", "type": "quantitative", "scale": {"domain": [0, 25], "nice": false, "zero": false},
   "axis": {"title": "90% HWF + 10% FT", "titleFont": "Liberation Serif", "titleFontSize": 30, "titlePadding": 14, "values": [0,1,2,3,4,5,6,7,8,9,10,11,12,13,14,15,16,17,18,19,20,21,22,23,24,25], "format": "d",
     "labelExpr": "datum.value == 25 ? 'хв' : (datum.value % 5 == 0 ? datum.label : '')", "labelFont": "Liberation Serif",
     "labelFontSize": {"condition": {"test": "datum.value == 25", "value": 22}, "value": 25},
     "labelPadding": {"condition": {"test": "datum.value == 25", "value": 14}, "value": 9},
     "labelOffset": {"condition": {"test": "datum.value == 25", "value": -6}, "value": 0},
     "tickSize": {"condition": {"test": "datum.value % 5 == 0", "value": 5}, "value": -4},
     "tickWidth": {"condition": {"test": "datum.value % 5 == 0", "value": 2}, "value": 1.5},
     "domainWidth": 3, "grid": true,
     "gridOpacity": {"condition": {"test": "datum.value % 5 == 0 && datum.value > 0 && datum.value < 25", "value": 1}, "value": 0}}}},
 "layer": [
  {"data": {"name": "temp"}, "transform": [{"filter": "datum.p == 6"}], "mark": {"type": "line", "color": "#55c4c4", "strokeWidth": 1},
   "encoding": {"y": {"field": "T", "type": "quantitative", "scale": {"domain": [0, 100], "nice": false},
     "axis": {"orient": "right", "title": null, "values": [0,4,8,12,16,20,24,28,32,36,40,44,48,52,56,60,64,68,72,76,80,84,88,92,96,100], "format": "d", "labelFont": "Liberation Serif",
       "labelExpr": "datum.value == 100 ? '°C' : (datum.value % 20 == 0 && datum.value > 0 ? datum.label : '')", "labelFontSize": 24, "labelPadding": 9,
       "tickSize": {"condition": {"test": "datum.value % 20 == 0", "value": 5}, "value": -4},
       "tickWidth": {"condition": {"test": "datum.value % 20 == 0", "value": 2}, "value": 1.5},
       "domainWidth": 2.5, "grid": false}}}},
  {"data": {"name": "visc"}, "transform": [{"filter": "datum.p == 6"}],
   "encoding": {"y": {"field": "v", "type": "quantitative", "scale": {"domain": [0, 5000], "nice": false},
     "axis": {"orient": "left", "title": null, "values": [0,200,400,600,800,1000,1200,1400,1600,1800,2000,2200,2400,2600,2800,3000,3200,3400,3600,3800,4000,4200,4400,4600,4800,5000], "format": "d", "labelFont": "Liberation Serif",
       "labelExpr": "datum.value == 5000 ? 'cP' : (datum.value % 1000 == 0 && datum.value > 0 ? datum.label : '')", "labelFontSize": 24, "labelPadding": 9,
       "tickSize": {"condition": {"test": "datum.value % 1000 == 0", "value": 5}, "value": -4},
       "tickWidth": {"condition": {"test": "datum.value % 1000 == 0", "value": 2}, "value": 1.5},
       "domainWidth": 2.5, "grid": true,
       "gridOpacity": {"condition": {"test": "datum.value % 1000 == 0 && datum.value > 0", "value": 1}, "value": 0}}}},
   "layer": [
    {"mark": {"type": "line", "color": "#2ccfcf", "strokeWidth": 1}},
    {"mark": {"type": "point", "filled": true, "opacity": 1, "color": "#2ccfcf", "size": 120, "shape": "M-1,0A1,0.7,0,1,0,1,0A1,0.7,0,1,0,-1,0Z"}}
   ]}
 ],
 "resolve": {"scale": {"y": "independent"}}
}
]
}
